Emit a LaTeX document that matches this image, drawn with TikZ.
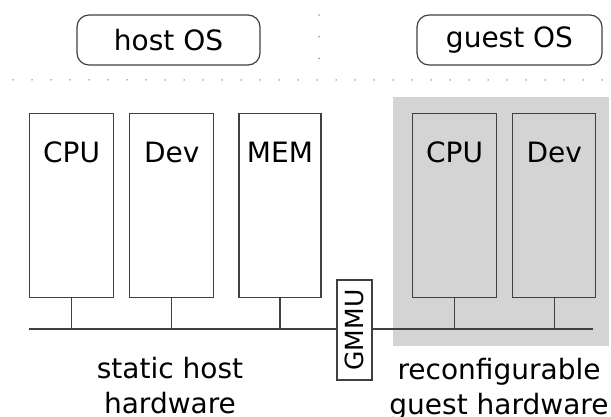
\documentclass[tikz,border=0pt]{standalone}
\usepackage{fontspec}
\setmainfont{DejaVu Sans}
\usetikzlibrary{positioning}

\begin{document}
\begin{tikzpicture}[x=1pt,y=-1pt,
  every node/.style={font=\fontsize{28}{35}\selectfont},
  line/.style={draw=black!75,line width=1.2pt},
  os/.style={line,rounded corners=12pt,minimum width=183pt,minimum height=50pt},
  unit/.style={line,minimum width=84pt,minimum height=184pt,inner sep=0pt},
  unitlabel/.style={anchor=base,yshift=-50pt},
  dots/.style={draw=black!55,line width=1.5pt,line cap=round,dash pattern=on 0pt off 19pt}]
  \useasboundingbox (0,0) rectangle (611,417);
  \fill[black!17] (393,97) rectangle (609,346);
  \draw[dots] (13,80) -- (611,80);
  \draw[dots,dash pattern=on 0pt off 21.7pt] (319,15) -- (319,80);
  \node[os] (hostos) at (168.5,40) {host OS};
  \node[os,minimum width=185pt] (guestos) at (509.5,40) {guest OS};
  % host hardware
  \node[unit,anchor=north west,label={[unitlabel]north:CPU}] (hcpu) at (29,113) {};
  \node[unit,right=15pt of hcpu,label={[unitlabel]north:Dev}] (hdev) {};
  \node[unit,right=24pt of hdev,minimum width=82pt,label={[unitlabel]north:MEM}] (hmem) {};
  % guest hardware
  \node[unit,anchor=north west,label={[unitlabel]north:CPU}] (gcpu) at (412,113) {};
  \node[unit,right=15pt of gcpu,minimum width=83pt,label={[unitlabel]north:Dev}] (gdev) {};
  \node[line,rotate=90,font=\fontsize{25}{30}\selectfont,inner sep=0pt,
    minimum height=35pt,minimum width=100pt] (gmmu) at (354.5,330) {GMMU};
  % bus
  \coordinate (busl) at (29,329);
  \coordinate (busr) at (593,329);
  \draw[line] (busl) -- (gmmu.north |- busl);
  \draw[line] (gmmu.south |- busr) -- (busr);
  \foreach \u in {hcpu,hdev,hmem,gcpu,gdev}
    \draw[line] (\u.south) -- (\u.south |- busl);
  \node[align=center,anchor=base] (statichw) at (170,413) {static host\\hardware};
  \node[align=center,anchor=base] (guesthw) at (499,414) {reconfigurable\\guest hardware};
\end{tikzpicture}
\end{document}
